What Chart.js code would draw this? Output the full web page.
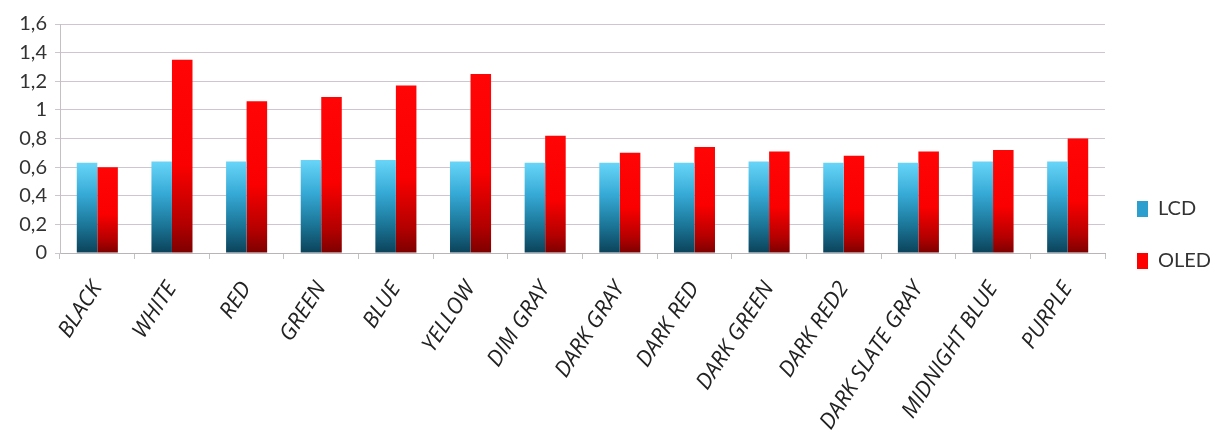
<!DOCTYPE html>
<html>
<head>
<meta charset="utf-8">
<script src="https://cdn.jsdelivr.net/npm/chart.js@4.4.1/dist/chart.umd.min.js"></script>
<style>
  html, body { margin: 0; padding: 0; background: #ffffff; }
  #wrap { width: 1218px; height: 446px; position: relative; }
</style>
</head>
<body>
<div id="wrap"><canvas id="chart"></canvas></div>
<script>
// Colour names measured on each display
const categories = ['BLACK', 'WHITE', 'RED', 'GREEN', 'BLUE', 'YELLOW', 'DIM GRAY', 'DARK GRAY',
  'DARK RED', 'DARK GREEN', 'DARK RED2', 'DARK SLATE GRAY', 'MIDNIGHT BLUE', 'PURPLE'];

// Measured values per colour
const lcdValues  = [0.63, 0.64, 0.64, 0.65, 0.65, 0.64, 0.63, 0.63, 0.63, 0.64, 0.63, 0.63, 0.64, 0.64];
const oledValues = [0.60, 1.35, 1.06, 1.09, 1.17, 1.25, 0.82, 0.70, 0.74, 0.71, 0.68, 0.71, 0.72, 0.80];

const seriesNames = ['LCD', 'OLED'];
const legendColors = ['#2c9fcf', '#ff0000'];

// Vertical gradient running from the top of each bar down to the baseline
function barGradient(stops, fallback) {
  return function (ctx) {
    const chart = ctx.chart;
    if (!chart.chartArea || ctx.type !== 'data' || !ctx.parsed) return fallback;
    const y = chart.scales.y;
    const top = y.getPixelForValue(ctx.parsed.y);
    const base = y.getPixelForValue(0);
    if (!isFinite(top) || !isFinite(base) || top === base) return fallback;
    const g = chart.ctx.createLinearGradient(0, top, 0, base);
    stops.forEach(([p, c]) => g.addColorStop(p, c));
    return g;
  };
}

const lcdStops  = [[0, '#68d5f8'], [0.35, '#36aad6'], [0.7, '#1b7597'], [1, '#0b4259']];
const oledStops = [[0, '#ff0505'], [0.55, '#fa0000'], [0.85, '#b30000'], [1, '#7d0000']];

const decimalComma = v => String(Number(v.toFixed(1))).replace('.', ',');

new Chart(document.getElementById('chart'), {
  type: 'bar',
  data: {
    labels: categories,
    datasets: [
      {
        label: seriesNames[0],
        data: lcdValues,
        backgroundColor: barGradient(lcdStops, legendColors[0]),
        borderWidth: 0,
        categoryPercentage: 0.55,
        barPercentage: 1.0
      },
      {
        label: seriesNames[1],
        data: oledValues,
        backgroundColor: barGradient(oledStops, legendColors[1]),
        borderWidth: 0,
        categoryPercentage: 0.55,
        barPercentage: 1.0
      }
    ]
  },
  options: {
    responsive: true,
    maintainAspectRatio: false,
    animation: false,
    layout: { padding: { top: 24, left: 0, right: 0, bottom: 0 } },
    plugins: {
      tooltip: { enabled: false },
      legend: {
        position: 'right',
        maxWidth: 113,
        labels: {
          boxWidth: 11,
          boxHeight: 16,
          padding: 32,
          color: '#333333',
          font: { family: 'Lato', size: 20 },
          generateLabels: chart => {
            const items = Chart.defaults.plugins.legend.labels.generateLabels(chart);
            items.forEach((it, i) => {
              it.fillStyle = legendColors[i];
              it.strokeStyle = legendColors[i];
              it.lineWidth = 0;
            });
            return items;
          }
        }
      }
    },
    scales: {
      x: {
        afterFit: s => { s.height = 193; },
        border: { color: '#b8b4b8', width: 1 },
        grid: {
          drawOnChartArea: false,
          drawTicks: true,
          tickLength: 6,
          color: '#c4c0c4',
          offset: true
        },
        ticks: {
          maxRotation: 57,
          minRotation: 57,
          autoSkip: false,
          padding: 18,
          color: '#222222',
          font: { family: '"Open Sans", "DejaVu Sans", sans-serif', size: 22, style: 'italic' }
        }
      },
      y: {
        min: 0,
        max: 1.6,
        afterFit: s => { s.width = 60; },
        border: { color: '#c4c0c4', width: 1 },
        grid: {
          color: '#cdc6cf',
          lineWidth: 1,
          tickLength: 5
        },
        ticks: {
          stepSize: 0.2,
          padding: 8,
          color: '#333333',
          font: { family: 'Lato', size: 20 },
          callback: v => decimalComma(v)
        }
      }
    }
  }
});
</script>
</body>
</html>
